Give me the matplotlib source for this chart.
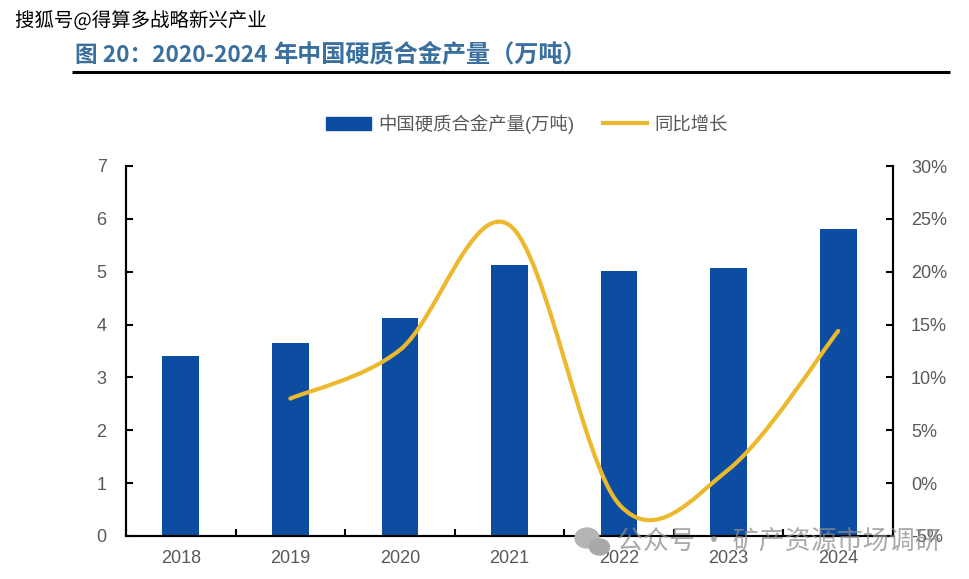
import matplotlib
matplotlib.use('Agg')
import matplotlib.pyplot as plt
import matplotlib.patheffects as pe
from matplotlib.lines import Line2D
from matplotlib.patches import Patch, PathPatch, Ellipse
from matplotlib.path import Path
import numpy as np

plt.rcParams['font.family'] = ['Liberation Sans', 'Noto Sans CJK SC', 'DejaVu Sans']

years = ['2018', '2019', '2020', '2021', '2022', '2023', '2024']
output = [3.40, 3.66, 4.12, 5.13, 5.01, 5.07, 5.81]
growth_years = [1, 2, 3, 4, 5, 6]
growth = [8.0, 12.6, 24.4, -2.0, 1.3, 14.4]
right_ticks = [-5, 0, 5, 10, 15, 20, 25, 30]

W, H = 969, 579
BLUE = '#0c4da2'
GOLD = '#ecb92e'
GREY = '#595959'
CJK = ['Noto Sans CJK SC', 'DejaVu Sans']


def px(x, y):
    return x / W, 1 - y / H


# smoothed line the way office charts do it
def smooth_path(xs, ys):
    pts = np.column_stack([xs, ys]).astype(float)
    verts = [pts[0]]
    codes = [Path.MOVETO]
    for i in range(len(pts) - 1):
        prev = pts[max(i - 1, 0)]
        nxt = pts[min(i + 2, len(pts) - 1)]
        verts += [pts[i] + (pts[i + 1] - prev) / 6, pts[i + 1] - (nxt - pts[i]) / 6, pts[i + 1]]
        codes += [Path.CURVE4] * 3
    return Path(verts, codes)


fig = plt.figure(figsize=(W / 100, H / 100), dpi=100)
ax = fig.add_axes([126 / W, 1 - 536 / H, (893 - 126) / W, (536 - 166) / H])
ax2 = ax.twinx()
ax.set_zorder(1)
ax2.set_zorder(2)
ax2.patch.set_visible(False)

ax.bar(range(len(years)), output, width=0.335, color=BLUE)
ax.set_xlim(-0.5, 6.5)
ax.set_ylim(0, 7)
ax.set_xticks(np.arange(-0.5, 7, 1))
ax.set_xticklabels([])
ax.set_xticks(range(len(years)), labels=years, minor=True)
ax.tick_params(axis='x', which='major', direction='in', length=5, width=1.5, color='black')
ax.tick_params(axis='x', which='minor', length=0, pad=10, labelsize=13, labelcolor=GREY)
ax.tick_params(axis='y', direction='in', length=5, width=1.5, pad=14, labelsize=13, labelcolor=GREY)

ax2.add_patch(PathPatch(smooth_path(growth_years, growth), fill=False, edgecolor=GOLD,
                        lw=3, capstyle='round'))
ax2.set_ylim(-5, 30)
ax2.set_yticks(right_ticks, labels=[f'{v}%' for v in right_ticks])
ax2.tick_params(axis='y', direction='in', length=5, width=1.5, pad=13, labelsize=13, labelcolor=GREY)

for a in (ax, ax2):
    a.spines['top'].set_visible(False)
    for s in ('left', 'right', 'bottom'):
        a.spines[s].set_linewidth(1.5)

handles = [Patch(color=BLUE), Line2D([0], [0], color=GOLD, lw=3)]
fig.legend(handles, ['中国硬质合金产量(万吨)', '同比增长'], ncol=2, frameon=False,
           loc='center', bbox_to_anchor=px(527, 124), fontsize=13.2, labelcolor=GREY,
           handlelength=2.45, handleheight=0.7, handletextpad=0.38, columnspacing=1.55)

# heading and rule, digits run narrower than the hanzi in the original
fig.text(*px(75, 55), '图 20：2020-2024', color='#3a6f9e', fontsize=16.3,
         fontweight='bold', va='center', family=CJK)
fig.text(*px(273, 55), '年中国硬质合金产量（万吨）', color='#3a6f9e', fontsize=17.4,
         fontweight='bold', va='center', family=CJK)
fig.add_artist(Line2D([72 / W, 950 / W], [1 - 72 / H] * 2, color='black', lw=2.2,
                      solid_capstyle='butt'))

# watermarks
fig.text(*px(15, 21), '搜狐号@得算多战略新兴产业', color='black', fontsize=14, va='center',
         fontweight='medium', family=CJK,
         path_effects=[pe.withStroke(linewidth=2.5, foreground='white')])
fig.text(*px(617, 541), '公众号 · 矿产资源市场调研', color='#8c8c8c', alpha=0.75, fontsize=18.7, va='center',
         zorder=10, family=CJK)
fig.add_artist(Ellipse(px(587, 538), 24 / W, 20 / H, color='#b5b5b5', zorder=10))
fig.add_artist(Ellipse(px(599.5, 547), 20 / W, 16 / H, color='#a8a8a8', zorder=10))

fig.savefig('out.png', dpi=100)
